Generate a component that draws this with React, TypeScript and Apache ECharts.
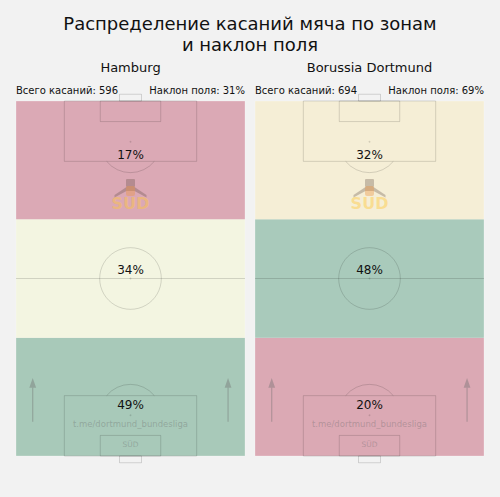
import { useEffect, useRef } from 'react';
import * as echarts from 'echarts';

// ---------- data ----------
const TITLE_LINES = ['Распределение касаний мяча по зонам', 'и наклон поля'];
const TEAMS = ['Hamburg', 'Borussia Dortmund'];
const TOTAL_TOUCHES = [596, 694];
const FIELD_TILT = [31, 69];
// zone shares, from own third (bottom) to final third (top)
const HAMBURG_ZONES = [49, 34, 17];
const DORTMUND_ZONES = [20, 48, 32];
const ZONES = [HAMBURG_ZONES, DORTMUND_ZONES];

// ---------- styles ----------
const ZONE_COLORS = [
  ['#a8c9b9', '#f3f5e1', '#dba9b5'],
  ['#dba9b4', '#a9cabb', '#f5eed6'],
];
const LABEL_Y = [14.4, 52.45, 84.85];
const FONT = 'DejaVu Sans';
const LINE = 'rgba(0,0,0,0.14)';
const WATERMARK = 'rgba(100,100,100,0.35)';

function markings(_params: any, api: any) {
  const c = (x: number, y: number) => api.coord([x, y]);
  const sx = api.size([1, 0])[0];
  const st = { stroke: LINE, lineWidth: 1, fill: 'none' };
  const rect = (x0: number, y0: number, x1: number, y1: number, style: any = st) => {
    const a = c(x0, y1);
    const b = c(x1, y0);
    return { type: 'rect', shape: { x: a[0], y: a[1], width: b[0] - a[0], height: b[1] - a[1] }, style };
  };
  const dot = (x: number, y: number) => {
    const p = c(x, y);
    return { type: 'circle', shape: { cx: p[0], cy: p[1], r: 0.9 }, style: { fill: LINE } };
  };
  const r = 13.46 * sx;
  const center = c(50, 50);
  const els: any[] = [];
  els.push(rect(0, 0, 100, 100, { stroke: 'rgba(255,255,255,0.25)', lineWidth: 1, fill: 'none' }));
  const h0 = c(0, 50);
  const h1 = c(100, 50);
  els.push({ type: 'line', shape: { x1: h0[0], y1: h0[1], x2: h1[0], y2: h1[1] }, style: st });
  els.push({ type: 'circle', shape: { cx: center[0], cy: center[1], r }, style: st });
  els.push(dot(50, 50));
  // top end
  els.push(rect(21.1, 83, 78.9, 100));
  els.push(rect(36.8, 94.2, 63.2, 100));
  els.push(rect(45.2, 100, 54.8, 101.9));
  els.push(dot(50, 88.5));
  {
    const s = c(50, 88.5);
    const l = c(50, 83);
    const d = l[1] - s[1];
    const phi = Math.acos(Math.min(1, d / r));
    els.push({
      type: 'arc',
      shape: { cx: s[0], cy: s[1], r, startAngle: Math.PI / 2 - phi, endAngle: Math.PI / 2 + phi, clockwise: true },
      style: st,
    });
  }
  // bottom end
  els.push(rect(21.1, 0, 78.9, 17));
  els.push(rect(36.8, 0, 63.2, 5.8));
  els.push(rect(45.2, -1.9, 54.8, 0));
  els.push(dot(50, 11.5));
  {
    const s = c(50, 11.5);
    const l = c(50, 17);
    const d = s[1] - l[1];
    const phi = Math.acos(Math.min(1, d / r));
    els.push({
      type: 'arc',
      shape: { cx: s[0], cy: s[1], r, startAngle: (3 * Math.PI) / 2 - phi, endAngle: (3 * Math.PI) / 2 + phi, clockwise: true },
      style: st,
    });
  }
  // direction arrows
  const ARROW = 'rgba(110,110,110,0.4)';
  [7.3, 92.6].forEach((x) => {
    const tail = c(x, 9.66);
    const base = c(x, 19.2);
    const tip = c(x, 22.0);
    els.push({ type: 'line', shape: { x1: tail[0], y1: tail[1], x2: base[0], y2: base[1] }, style: { stroke: ARROW, lineWidth: 1.2 } });
    els.push({
      type: 'polygon',
      shape: { points: [[tip[0], tip[1]], [base[0] - 3.4, base[1]], [base[0] + 3.4, base[1]]] },
      style: { fill: ARROW },
    });
  });
  // watermarks
  const wm = c(50, 9.0);
  els.push({
    type: 'text', x: wm[0], y: wm[1],
    style: { text: 't.me/dortmund_bundesliga', fill: WATERMARK, fontSize: 8.5, fontFamily: FONT, align: 'center', verticalAlign: 'middle', textAlign: 'center', textVerticalAlign: 'middle' },
  });
  const sd = c(50, 3.1);
  els.push({
    type: 'text', x: sd[0], y: sd[1],
    style: { text: 'SÜD', fill: WATERMARK, fontSize: 7.5, fontFamily: FONT, align: 'center', verticalAlign: 'middle', textAlign: 'center', textVerticalAlign: 'middle' },
  });
  // logo
  const lg = c(50, 71.0);
  const px = lg[0];
  const py = lg[1];
  const DARK = 'rgba(90,70,60,0.3)';
  els.push({
    type: 'polygon',
    shape: { points: [[px - 16, py - 9], [px - 4, py - 17], [px + 4, py - 17], [px + 16, py - 9], [px + 16, py - 6.5], [px + 4, py - 13], [px - 4, py - 13], [px - 16, py - 6.5]] },
    style: { fill: DARK },
  });
  els.push({ type: 'rect', shape: { x: px - 4.5, y: py - 25, width: 9, height: 8, r: 1 }, style: { fill: DARK } });
  els.push({ type: 'rect', shape: { x: px - 4.5, y: py - 18, width: 9, height: 10, r: 2 }, style: { fill: 'rgba(235,150,70,0.4)' } });
  els.push({
    type: 'text', x: px, y: py,
    style: { text: 'SUD', fill: 'rgba(255,200,60,0.45)', fontSize: 16, fontWeight: 'bold', fontFamily: FONT, align: 'center', verticalAlign: 'middle', textAlign: 'center', textVerticalAlign: 'middle' },
  });
  return { type: 'group', children: els };
}

export default function App() {
  const ref = useRef<HTMLDivElement>(null);
  useEffect(() => {
    document.body.style.margin = '0';
    document.body.style.background = '#f2f2f2';
    if (!ref.current) return;
    const chart = echarts.init(ref.current, undefined, { renderer: 'svg' });
    const lefts = [16, 255];
    const grids = lefts.map((l) => ({ left: l, top: 101, width: 229, height: 355 }));
    const axis = (i: number) => ({ type: 'value', gridIndex: i, min: 0, max: 100, show: false });
    const series: any[] = [];
    ZONES.forEach((zones, i) => {
      series.push({
        type: 'custom', xAxisIndex: i, yAxisIndex: i, z: 1, clip: false, silent: true,
        data: zones.map((v, k) => [k, v]),
        renderItem: (_p: any, api: any) => {
          const k = api.value(0);
          const a = api.coord([0, ((k + 1) * 100) / 3]);
          const b = api.coord([100, (k * 100) / 3]);
          return { type: 'rect', shape: { x: a[0], y: a[1], width: b[0] - a[0], height: b[1] - a[1] }, style: { fill: ZONE_COLORS[i][k] } };
        },
      });
      series.push({
        type: 'custom', xAxisIndex: i, yAxisIndex: i, z: 2, clip: false, silent: true,
        data: [[50, 50]],
        renderItem: markings,
      });
      series.push({
        type: 'custom', xAxisIndex: i, yAxisIndex: i, z: 3, clip: false, silent: true,
        data: zones.map((v, k) => [k, v]),
        renderItem: (_p: any, api: any) => {
          const k = api.value(0);
          const v = api.value(1);
          const p = api.coord([50, LABEL_Y[k]]);
          return {
            type: 'text', x: p[0], y: p[1],
            style: { text: v + '%', fill: '#111', fontSize: 12, fontFamily: FONT, align: 'center', verticalAlign: 'middle', textAlign: 'center', textVerticalAlign: 'middle' },
          };
        },
      });
    });
    const txt = (text: string, x: number, y: number, size: number, align = 'center') => ({
      type: 'text', x, y, silent: true,
      style: { text, fill: '#111', fontSize: size, fontFamily: FONT, align, verticalAlign: 'middle', textAlign: align, textVerticalAlign: 'middle' },
    });
    const graphics: any[] = [
      txt(TITLE_LINES[0], 250, 23.5, 18),
      txt(TITLE_LINES[1], 250, 44, 18),
    ];
    TEAMS.forEach((t, i) => {
      const l = lefts[i];
      graphics.push(txt(t, l + 114.5, 67.5, 13));
      graphics.push(txt('Всего касаний: ' + TOTAL_TOUCHES[i], l, 90, 10, 'left'));
      graphics.push(txt('Наклон поля: ' + FIELD_TILT[i] + '%', l + 229, 90, 10, 'right'));
    });
    chart.setOption({
      animation: false,
      backgroundColor: '#f2f2f2',
      grid: grids,
      xAxis: [axis(0), axis(1)],
      yAxis: [axis(0), axis(1)],
      series,
      graphic: graphics,
    });
    return () => chart.dispose();
  }, []);
  return <div ref={ref} style={{ width: 500, height: 497 }} />;
}
